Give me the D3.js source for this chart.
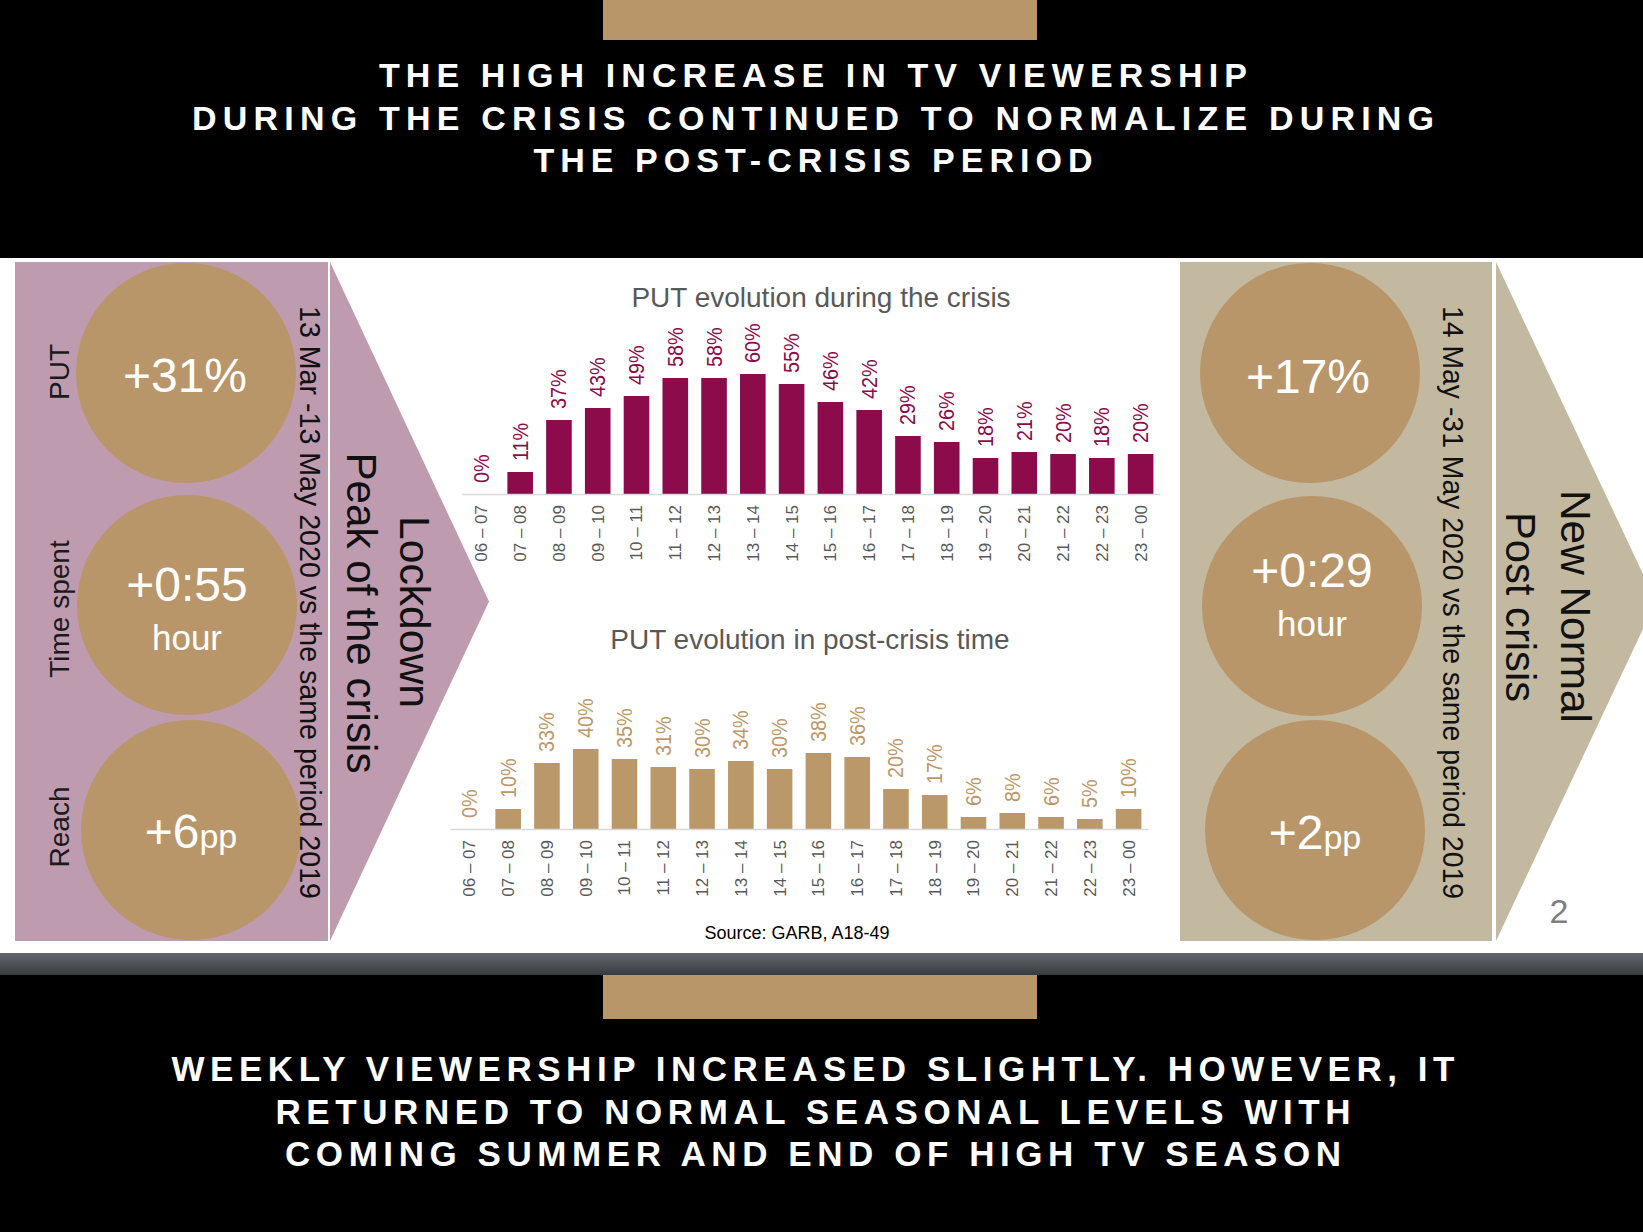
<!DOCTYPE html>
<html>
<head>
<meta charset="utf-8">
<script src="https://cdn.jsdelivr.net/npm/d3@7/dist/d3.min.js"></script>
<style>
  html, body { margin: 0; padding: 0; background: #000; }
  svg { display: block; }
  text { font-family: "Liberation Sans", Arial, Helvetica, sans-serif; }
</style>
</head>
<body>
<svg id="chart" width="1643" height="1232"></svg>
<script>
// ---------------- DATA ----------------
const hours = ["06 – 07","07 – 08","08 – 09","09 – 10","10 – 11","11 – 12","12 – 13","13 – 14","14 – 15","15 – 16","16 – 17","17 – 18","18 – 19","19 – 20","20 – 21","21 – 22","22 – 23","23 – 00"];
const crisisPUT = [0, 11, 37, 43, 49, 58, 58, 60, 55, 46, 42, 29, 26, 18, 21, 20, 18, 20];
const postPUT   = [0, 10, 33, 40, 35, 31, 30, 34, 30, 38, 36, 20, 17, 6, 8, 6, 5, 10];

const headerLines = ["THE HIGH INCREASE IN TV VIEWERSHIP", "DURING THE CRISIS CONTINUED TO NORMALIZE DURING", "THE POST-CRISIS PERIOD"];
const footerLines = ["WEEKLY VIEWERSHIP INCREASED SLIGHTLY. HOWEVER, IT", "RETURNED TO NORMAL SEASONAL LEVELS WITH", "COMING SUMMER AND END OF HIGH TV SEASON"];

const rowLabels = ["PUT", "Time spent", "Reach"];
const crisisStats = ["+31%", "+0:55", "+6"];
const postStats   = ["+17%", "+0:29", "+2"];
const crisisPeriod = "13 Mar -13 May 2020 vs the same period 2019";
const postPeriod   = "14 May -31 May 2020 vs the same period 2019";
const crisisPhase = ["Lockdown", "Peak of the crisis"];
const postPhase   = ["New Normal", "Post crisis"];
const chartTitles = ["PUT evolution during the crisis", "PUT evolution in post-crisis time"];
const sourceText = "Source: GARB, A18-49";
const pageNumber = "2";

// ---------------- STYLE ----------------
const C = {
  gold: "#b99669", pink: "#bf9bb0", beige: "#c3b9a1",
  maroon: "#8b0b4b", tan: "#bb9869", grid: "#d9d9d9", tick: "#595959"
};

const svg = d3.select("#chart");
const W = 1643, H = 1232;

const defs = svg.append("defs");
const grad = defs.append("linearGradient").attr("id", "band").attr("x1", 0).attr("y1", 0).attr("x2", 0).attr("y2", 1);
grad.append("stop").attr("offset", "0%").attr("stop-color", "#63676b");
grad.append("stop").attr("offset", "100%").attr("stop-color", "#393c3f");

defs.append("clipPath").attr("id", "clipL").append("rect").attr("x", 15).attr("y", 262).attr("width", 313).attr("height", 679);
defs.append("clipPath").attr("id", "clipR").append("rect").attr("x", 1180).attr("y", 262).attr("width", 312).attr("height", 679);
defs.append("clipPath").attr("id", "clipPage").append("rect").attr("x", 0).attr("y", 0).attr("width", W).attr("height", H);

// backgrounds
svg.append("rect").attr("width", W).attr("height", H).attr("fill", "#000");
svg.append("rect").attr("x", 0).attr("y", 258).attr("width", W).attr("height", 695).attr("fill", "#fff");
svg.append("rect").attr("x", 0).attr("y", 953).attr("width", W).attr("height", 22).attr("fill", "url(#band)");
svg.append("rect").attr("x", 603).attr("y", 0).attr("width", 434).attr("height", 40).attr("fill", C.gold);
svg.append("rect").attr("x", 603).attr("y", 975).attr("width", 434).attr("height", 44).attr("fill", C.gold);

// header & footer text
function banner(lines, baselines, spans, size) {
  lines.forEach((t, i) => {
    svg.append("text")
      .attr("x", 816).attr("y", baselines[i])
      .attr("text-anchor", "middle")
      .attr("fill", "#fff")
      .attr("font-weight", "bold")
      .attr("font-size", size)
      .attr("letter-spacing", 6)
      .attr("textLength", spans[i])
      .attr("lengthAdjust", "spacing")
      .text(t);
  });
}
banner(headerLines, [87, 130, 172], [874, 1248, 565], 34);
banner(footerLines, [1081, 1124, 1166], [1289, 1081, 1062], 35);

// side panels
svg.append("rect").attr("x", 15).attr("y", 262).attr("width", 313).attr("height", 679).attr("fill", C.pink);
svg.append("path").attr("d", "M330,262 L489,601.5 L330,941 Z").attr("fill", C.pink);
svg.append("rect").attr("x", 1180).attr("y", 262).attr("width", 312).attr("height", 679).attr("fill", C.beige);
svg.append("path").attr("d", "M1496,262 L1656,601.5 L1496,941 Z").attr("fill", C.beige).attr("clip-path", "url(#clipPage)");

function statPanel(stats, centers, textPos, clip) {
  const g = svg.append("g");
  g.append("g").attr("clip-path", clip).selectAll("circle").data(centers).join("circle")
    .attr("cx", d => d[0]).attr("cy", d => d[1]).attr("r", 110).attr("fill", C.gold);
  g.append("text").attr("x", textPos[0][0]).attr("y", textPos[0][1]).attr("text-anchor", "middle")
    .attr("fill", "#fff").attr("font-size", 48).text(stats[0]);
  g.append("text").attr("x", textPos[1][0]).attr("y", textPos[1][1]).attr("text-anchor", "middle")
    .attr("fill", "#fff").attr("font-size", 48).text(stats[1]);
  g.append("text").attr("x", textPos[1][0]).attr("y", textPos[1][1] + 49).attr("text-anchor", "middle")
    .attr("fill", "#fff").attr("font-size", 35).text("hour");
  const t3 = g.append("text").attr("x", textPos[2][0]).attr("y", textPos[2][1]).attr("text-anchor", "middle")
    .attr("fill", "#fff").attr("font-size", 48);
  t3.append("tspan").text(stats[2]);
  t3.append("tspan").attr("font-size", 34).text("pp");
}
statPanel(crisisStats, [[186, 373], [187, 605], [191, 830]], [[185, 392], [187, 601], [191, 848]], "url(#clipL)");
statPanel(postStats, [[1310, 373], [1312, 606], [1315, 830]], [[1308, 393], [1312, 587], [1315, 849]], "url(#clipR)");

// row labels (left)
const rowY = [372, 609, 827];
rowLabels.forEach((t, i) => {
  svg.append("text").attr("transform", `translate(59,${rowY[i]}) rotate(-90)`)
    .attr("text-anchor", "middle").attr("dominant-baseline", "central")
    .attr("font-size", 28).attr("fill", "#1a1a1a").text(t);
});

function vtext(x, y, size, t, len) {
  const s = svg.append("text").attr("transform", `translate(${x},${y}) rotate(90)`)
    .attr("text-anchor", "middle").attr("dominant-baseline", "central")
    .attr("font-size", size).attr("fill", "#111").text(t);
  if (len) s.attr("textLength", len).attr("lengthAdjust", "spacingAndGlyphs");
  return s;
}
vtext(310, 602.5, 30, crisisPeriod, 593);
vtext(1453, 602.5, 30, postPeriod, 593);
vtext(415, 612, 43, crisisPhase[0], 192);
vtext(362, 613, 43, crisisPhase[1], 321);
vtext(1576, 606.5, 43, postPhase[0], 233);
vtext(1521, 607, 43, postPhase[1], 190);

svg.append("text").attr("x", 1559).attr("y", 923).attr("text-anchor", "middle")
  .attr("font-size", 34).attr("fill", "#7f7f7f").text(pageNumber);

// ---------------- BAR CHARTS ----------------
function barChart(values, opts) {
  const x = d3.scaleBand().domain(hours).range(opts.xr).paddingInner(0.34).paddingOuter(0.17);
  const y = d3.scaleLinear().domain([0, 100]).range([opts.y0, opts.y0 - 200]);
  const g = svg.append("g");

  g.append("text").attr("x", opts.titleX).attr("y", opts.titleY).attr("text-anchor", "middle")
    .attr("font-size", 28).attr("fill", "#595959").text(opts.title);

  g.selectAll("rect.bar").data(values).join("rect").attr("class", "bar")
    .attr("x", (d, i) => x(hours[i]))
    .attr("width", x.bandwidth())
    .attr("y", d => y(d))
    .attr("height", d => opts.y0 - y(d))
    .attr("fill", opts.color);

  const axis = d3.axisBottom(x).tickSize(0).tickPadding(0);
  const ag = g.append("g").attr("transform", `translate(0,${opts.y0})`).call(axis);
  ag.select(".domain").attr("stroke", C.grid).attr("stroke-width", 1.5);
  ag.selectAll(".tick text")
    .attr("transform", "translate(0,11) rotate(-90)")
    .attr("text-anchor", "end")
    .attr("dy", "0.35em")
    .attr("y", 0).attr("x", 0)
    .attr("font-size", 17)
    .attr("font-family", "\"Liberation Sans\", Arial, sans-serif")
    .attr("fill", C.tick);

  g.selectAll("text.val").data(values).join("text").attr("class", "val")
    .attr("transform", (d, i) => `translate(${x(hours[i]) + x.bandwidth() / 2},${y(d) - 11}) rotate(-90)`)
    .attr("text-anchor", "start").attr("dominant-baseline", "central")
    .attr("font-size", 22).attr("fill", opts.labelColor)
    .text(d => d + "%")
    .each(function () {
      const l = this.getComputedTextLength();
      d3.select(this).attr("textLength", l * 0.9).attr("lengthAdjust", "spacingAndGlyphs");
    });
}

barChart(crisisPUT, { xr: [462, 1160], y0: 494, color: C.maroon, labelColor: C.maroon,
  title: chartTitles[0], titleX: 821, titleY: 307 });
barChart(postPUT, { xr: [450, 1148], y0: 829, color: C.tan, labelColor: C.tan,
  title: chartTitles[1], titleX: 810, titleY: 649 });

svg.append("text").attr("x", 797).attr("y", 939).attr("text-anchor", "middle")
  .attr("font-size", 18).attr("fill", "#000").text(sourceText);
</script>
</body>
</html>
